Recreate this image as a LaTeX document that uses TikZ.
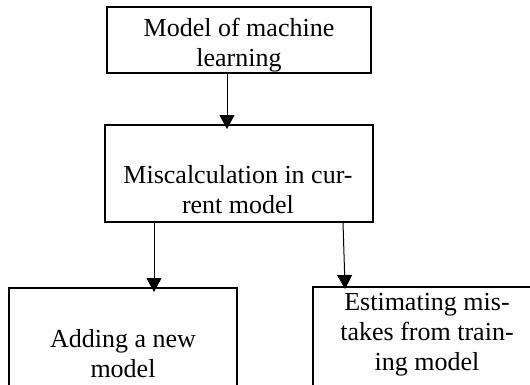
\documentclass[tikz,border=0pt]{standalone}
\usepackage{fontspec}
\setmainfont{Liberation Serif}
\usetikzlibrary{arrows.meta}
\begin{document}
\begin{tikzpicture}[x=1pt,y=-1pt,
  box/.style={draw, line width=2pt, inner sep=0pt},
  lbl/.style={font=\fontsize{26}{30}\selectfont, anchor=base, inner sep=0pt, align=center},
  arr/.style={line width=1pt, -{Triangle[width=15pt,length=14pt]}}]
\useasboundingbox (0,0) rectangle (530,384);
\clip (0,0) rectangle (530,384);

% boxes
\node[box, minimum width=264pt, minimum height=66pt] (top) at (239,40) {};
\node[box, minimum width=268pt, minimum height=97pt] (mid) at (239,173.5) {};
\node[box, minimum width=228pt, minimum height=132pt] (left) at (123,354) {};
\node[box, minimum width=228pt, minimum height=133pt] (right) at (427,353.5) {};

% box texts (placed by the baseline of their last line)
\node[lbl] (ttop) at (239,66) {Model of machine\\learning};
\node[lbl] (tmid) at (238,213) {Miscalculation in cur-\\rent model};
\node[lbl] (tleft) at (123,377) {Adding a new\\model};
\node[lbl] (tright) at (427,370) {Estimating mis-\\takes from train-\\ing model};

% connector columns
\coordinate (c1) at (227,0);
\coordinate (c2) at (154,0);
\coordinate (c3) at (343,0);
\coordinate (c4) at (345,0);

\draw[arr, shorten >=-5pt] (top.south -| c1) -- (mid.north -| c1);
\draw[arr, shorten >=-5pt] (mid.south -| c2) -- (left.north -| c2);
\draw[arr, shorten >=-3pt] (mid.south -| c3) -- (right.north -| c4);
\end{tikzpicture}
\end{document}
